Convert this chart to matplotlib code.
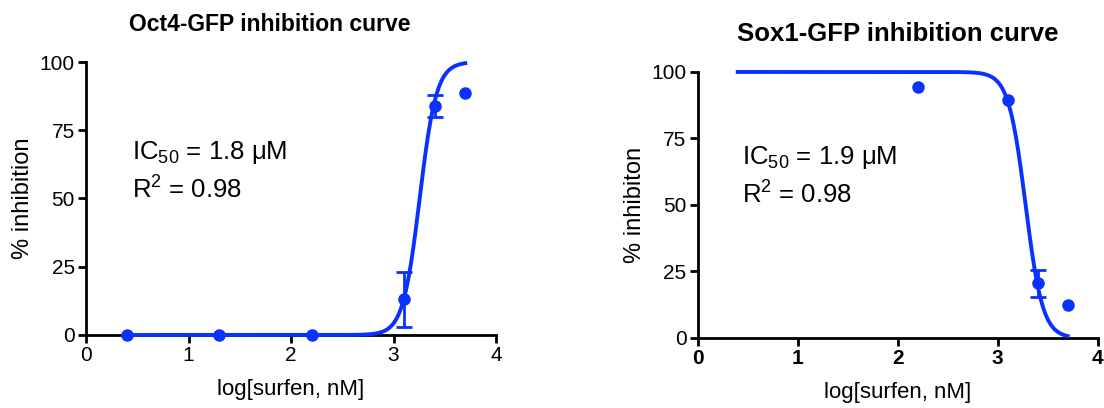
import matplotlib
matplotlib.use('Agg')
import matplotlib.pyplot as plt
import numpy as np

plt.rcParams['font.family'] = ['Liberation Sans', 'DejaVu Sans']
plt.rcParams['mathtext.default'] = 'regular'

nan = np.nan

# Oct4-GFP data
oct_x = [0.4, 1.3, 2.2, 3.1, 3.4, 3.7]
oct_y = [0, 0, 0, 13, 84, 88.5]
oct_err = [nan, nan, nan, 10, 4, nan]
oct_logic50 = 3.255   # log10(1800 nM)
oct_hill = 5.3

# Sox1-GFP data
sox_x = [2.2, 3.1, 3.4, 3.7]
sox_y = [94.5, 89.5, 20.5, 12.5]
sox_err = [nan, nan, 5, nan]
sox_logic50 = 3.279   # log10(1900 nM)
sox_hill = 5.07

curve_start = 0.4
curve_end = 3.7
yticks = [0, 25, 50, 75, 100]
xticks = [0, 1, 2, 3, 4]

blue = '#0a32ff'

fig = plt.figure(figsize=(11.04, 4.08), dpi=100)
ax1 = fig.add_axes([0.0779, 0.179, 0.3714, 0.669])
ax2 = fig.add_axes([0.632, 0.1716, 0.3623, 0.652])

def style(ax, boldx=False):
    for s in ['top', 'right']:
        ax.spines[s].set_visible(False)
    for s in ['left', 'bottom']:
        ax.spines[s].set_linewidth(2)
    ax.set_xlim(0, 4)
    ax.set_ylim(0, 100)
    ax.set_xticks(xticks)
    ax.set_yticks(yticks)
    ax.tick_params(width=2, length=6, labelsize=15, pad=2)
    if boldx:
        for lbl in ax.get_xticklabels():
            lbl.set_fontweight('bold')
    ax.set_xlabel('log[surfen, nM]', fontsize=16, labelpad=10)

def draw(ax, x, y, err):
    ax.plot(x, y, 'o', color=blue, ms=8, clip_on=False, zorder=4)
    ax.errorbar(x, y, yerr=err, fmt='none', ecolor=blue, capsize=6,
                elinewidth=2, capthick=2, clip_on=False, zorder=4)

xs = np.linspace(curve_start, curve_end, 300)

# left panel
fit1 = 100 / (1 + 10 ** ((oct_logic50 - xs) * oct_hill))
ax1.plot(xs, fit1, color=blue, lw=2.8, clip_on=False, zorder=3)
draw(ax1, oct_x, oct_y, oct_err)
style(ax1)
ax1.set_ylabel('% inhibition', fontsize=17, labelpad=4)
ax1.set_title('Oct4-GFP inhibition curve', fontsize=16.5, fontweight='bold', pad=22, x=0.449)
ax1.text(0.45, 67, 'IC$_{50}$ = 1.8 \u03bcM', fontsize=18.5, va='center')
ax1.text(0.45, 53, 'R$^2$ = 0.98', fontsize=18.5, va='center')

# right panel
fit2 = 100 / (1 + 10 ** ((xs - sox_logic50) * sox_hill))
ax2.plot(xs, fit2, color=blue, lw=2.8, clip_on=False, zorder=3)
draw(ax2, sox_x, sox_y, sox_err)
style(ax2, boldx=True)
ax2.set_ylabel('% inhibiton', fontsize=17, labelpad=4)
ax2.set_title('Sox1-GFP inhibition curve', fontsize=18.5, fontweight='bold', pad=22)
ax2.text(0.44, 67.7, 'IC$_{50}$ = 1.9 \u03bcM', fontsize=18.5, va='center')
ax2.text(0.44, 53.7, 'R$^2$ = 0.98', fontsize=18.5, va='center')

fig.savefig('out.png', dpi=100)
